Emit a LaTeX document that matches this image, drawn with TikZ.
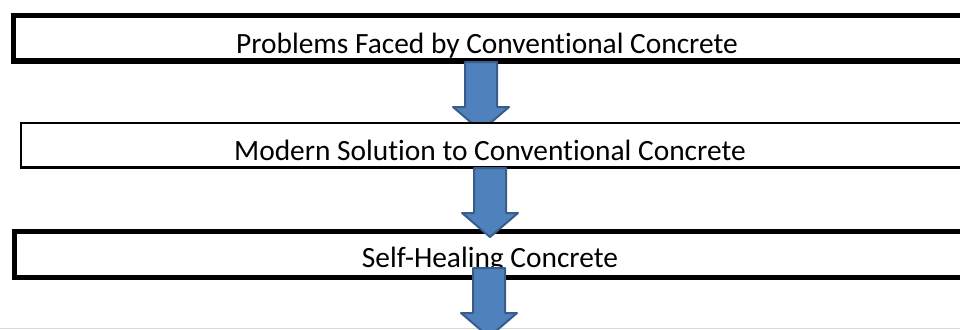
\documentclass[tikz,border=0pt]{standalone}
\usepackage{fontspec}
\setmainfont{Carlito}[Ligatures={NoCommon}]
\definecolor{arrfill}{HTML}{4F81BD}
\definecolor{arrline}{HTML}{385D8A}
\definecolor{pagegray}{HTML}{D9D9D9}
\tikzset{
  thickbox/.style={draw=black, line width=5pt, fill=white, rectangle, inner sep=0pt, anchor=north west},
  thinbox/.style={draw=black, line width=2.5pt, fill=white, rectangle, inner sep=0pt, anchor=north west},
  lbl/.style={font=\fontsize{29.4}{33}\selectfont, anchor=base, inner sep=0pt, text=black},
  barrow/.pic={
    \filldraw[fill=arrfill, draw=arrline, line width=2pt, line join=round]
      (-16,0) -- (16,0) -- (16,45) -- (28,45) -- (0,69) -- (-28,45) -- (-16,45) -- cycle;
  }
}
\begin{document}
\begin{tikzpicture}[x=1pt,y=-1pt]
\useasboundingbox (0,0) rectangle (960,329);
\clip (0,0) rectangle (960,329);
% bottom page edge
\coordinate (pl) at (0,328);
\coordinate (pr) at (960,328);
\draw[pagegray, line width=1pt] (pl) -- (pr);
% box 1
\node[thickbox, minimum width=1000pt, minimum height=45pt] (b1) at (11,13.5) {};
\node[lbl] (t1) at (487,53) {Problems Faced by Conventional Concrete};
% arrow 1
\coordinate (a1) at (481,62);
\pic at (a1) {barrow};
% box 2
\node[thinbox, minimum width=1000pt, minimum height=44.5pt] (b2) at (19.5,121.5) {};
\node[lbl] (t2) at (490,160) {Modern Solution to Conventional Concrete};
% box 3
\node[thickbox, minimum width=1000pt, minimum height=45.5pt] (b3) at (12,229) {};
\node[lbl] (t3) at (490,267) {Self-Healing Concrete};
% arrows 2 and 3
\coordinate (a2) at (490,168);
\pic at (a2) {barrow};
\coordinate (a3) at (489,268);
\pic at (a3) {barrow};
\end{tikzpicture}
\end{document}
